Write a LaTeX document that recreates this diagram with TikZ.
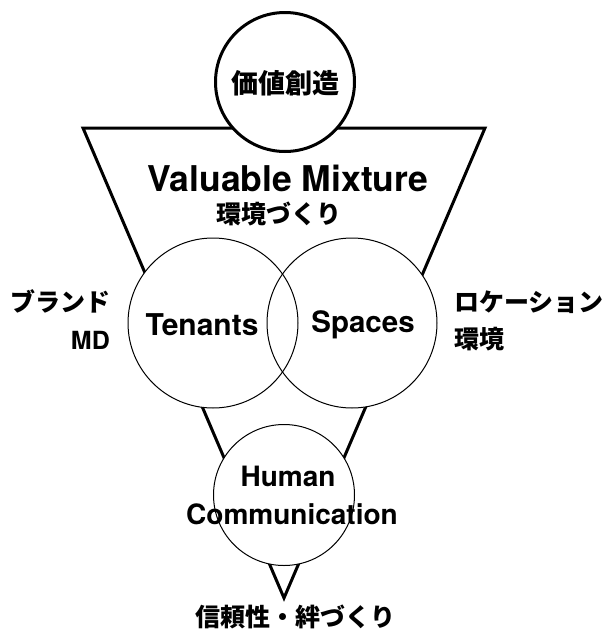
\documentclass[tikz,border=0pt]{standalone}
\usepackage{fontspec}
\setmainfont{TeX Gyre Heros}
\newfontfamily\cjk{Noto Sans CJK JP}
\begin{document}
\begin{tikzpicture}[x=1pt,y=-1pt,
  heavy/.style={line width=3pt},
  thincirc/.style={circle, draw, line width=1pt, inner sep=0pt},
  whitecirc/.style={circle, fill=white, inner sep=0pt},
  en/.style={inner sep=0pt, font=\fontsize{#1}{#1}\selectfont\bfseries},
  jp/.style={inner sep=0pt, font=\cjk\bfseries\fontsize{#1}{#1}\selectfont}]
\useasboundingbox (0,0) rectangle (604,632);
\coordinate (tl) at (83,128);
\coordinate (tr) at (485,128);
\coordinate (ap) at (284,598);
\draw[heavy, line join=miter] (tl) -- (tr) -- (ap) -- cycle;
% top circle
\node[circle, draw, heavy, fill=white, inner sep=0pt, minimum size=139pt] (top) at (285,82) {};
\node[jp=27] (topt) at (285,83) {価値創造};
% venn circles
\node[whitecirc, minimum size=170pt] (tenf) at (213,323) {};
\node[whitecirc, minimum size=170pt] (spaf) at (352,323) {};
\node[thincirc, minimum size=170pt] (ten) at (213,323) {};
\node[thincirc, minimum size=170pt] (spa) at (352,323) {};
% human circle
\node[thincirc, fill=white, minimum size=141pt] (hum) at (284,495) {};
% texts
\node[en=35.5] (vm) at (288,178) {Valuable Mixture};
\node[jp=25] (vmj) at (279,214) {環境づくり};
\node[en=30] (tent) at (202,325) {Tenants};
\node[en=29.5] (spat) at (363,325) {Spaces};
\node[jp=25, anchor=east] (br) at (111,301) {ブランド};
\node[en=25, anchor=east] (md) at (110,340) {MD};
\node[jp=25, anchor=west] (loc) at (454,302) {ロケーション};
\node[jp=25, anchor=west] (env) at (454,339) {環境};
\node[en=28] (humt) at (288,476) {Human};
\node[en=28] (comt) at (292,514) {Communication};
\node[jp=25] (bot) at (295,617) {信頼性・絆づくり};
\end{tikzpicture}
\end{document}
